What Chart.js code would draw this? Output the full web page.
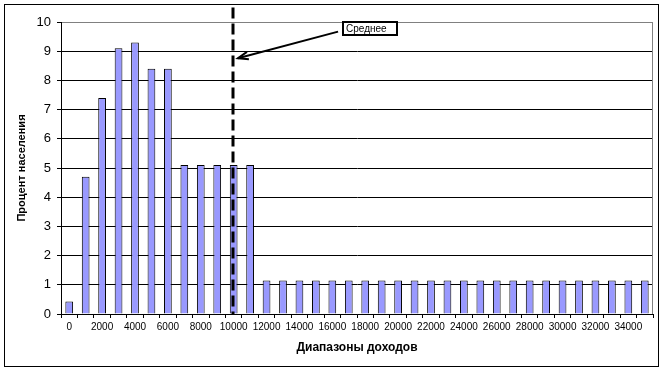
<!DOCTYPE html>
<html>
<head>
<meta charset="utf-8">
<script src="https://cdn.jsdelivr.net/npm/chart.js@4.4.0/dist/chart.umd.min.js"></script>
<style>
  html, body { margin: 0; padding: 0; background: #fff; }
</style>
</head>
<body>
<canvas id="chart" width="664" height="370"></canvas>
<script>
// income ranges (categories)
const incomeLabels = ['0', '1000', '2000', '3000', '4000', '5000', '6000', '7000', '8000', '9000',
    '10000', '11000', '12000', '13000', '14000', '15000', '16000', '17000', '18000', '19000',
    '20000', '21000', '22000', '23000', '24000', '25000', '26000', '27000', '28000', '29000',
    '30000', '31000', '32000', '33000', '34000', '35000'];

// percent of population in each range
const populationPct = [0.43, 4.7, 7.4, 9.1, 9.3, 8.4, 8.4, 5.1, 5.1, 5.1,
    5.1, 5.1, 1.15, 1.15, 1.15, 1.15, 1.15, 1.15, 1.15, 1.15,
    1.15, 1.15, 1.15, 1.15, 1.15, 1.15, 1.15, 1.15, 1.15, 1.15,
    1.15, 1.15, 1.15, 1.15, 1.15, 1.15];

const yMin = 0;
const yMax = 10;
const yStep = 1;

// mean income marker
const meanLabel = '10000';
const meanText = 'Среднее';

const FONT = 'Arial, "Liberation Sans", sans-serif';

const decor = {
    id: 'decor',
    beforeDraw(chart) {
        const c = chart.ctx;
        c.save();
        c.fillStyle = '#fff';
        c.fillRect(0, 0, chart.width, chart.height);
        c.restore();
    },
    afterDatasetsDraw(chart) {
        // dashed line for the mean
        const xs = chart.scales.x, ys = chart.scales.y;
        const c = chart.ctx;
        const x = Math.round(xs.getPixelForValue(incomeLabels.indexOf(meanLabel))) - 1;
        c.save();
        c.strokeStyle = '#000';
        c.lineWidth = 3;
        c.setLineDash([11, 5]);
        c.beginPath();
        c.moveTo(x, ys.getPixelForValue(10.5));
        c.lineTo(x, ys.getPixelForValue(0));
        c.stroke();
        c.restore();
    },
    afterDraw(chart) {
        const c = chart.ctx;
        const a = chart.chartArea;
        const xs = chart.scales.x, ys = chart.scales.y;
        c.save();
        // plot area right border
        c.strokeStyle = '#808080';
        c.lineWidth = 1;
        c.beginPath();
        c.moveTo(a.right - 0.5, a.top);
        c.lineTo(a.right - 0.5, a.bottom);
        c.stroke();

        // outer frame
        c.strokeStyle = '#000';
        c.strokeRect(4.5, 4.5, 654, 362);

        // arrow to the mean line
        const tipX = xs.getPixelForValue(10.26), tipY = ys.getPixelForValue(8.76);
        const tailX = xs.getPixelForValue(16.35), tailY = ys.getPixelForValue(9.67);
        c.lineWidth = 2;
        c.beginPath();
        c.moveTo(tailX, tailY);
        c.lineTo(tipX, tipY);
        c.stroke();
        const ang = Math.atan2(tailY - tipY, tailX - tipX);
        const len = 11;
        c.beginPath();
        c.moveTo(tipX + len * Math.cos(ang - 0.35), tipY + len * Math.sin(ang - 0.35));
        c.lineTo(tipX, tipY);
        c.lineTo(tipX + len * Math.cos(ang + 0.35), tipY + len * Math.sin(ang + 0.35));
        c.stroke();

        // label box
        const bx = Math.round(xs.getPixelForValue(16.66)), by = Math.round(ys.getPixelForValue(10));
        c.fillStyle = '#fff';
        c.fillRect(bx, by, 54, 13);
        c.lineWidth = 2;
        c.strokeRect(bx, by, 54, 13);
        c.fillStyle = '#000';
        c.font = '10px ' + FONT;
        c.textBaseline = 'middle';
        c.textAlign = 'left';
        c.fillText(meanText, bx + 3, by + 7);
        c.restore();
    }
};

new Chart(document.getElementById('chart'), {
    type: 'bar',
    data: {
        labels: incomeLabels,
        datasets: [{
            data: populationPct,
            backgroundColor: '#9999ff',
            borderColor: '#000',
            borderWidth: 1,
            categoryPercentage: 1,
            barPercentage: 0.47
        }]
    },
    options: {
        responsive: false,
        devicePixelRatio: 1,
        animation: false,
        layout: { padding: { top: 22, right: 11, bottom: 0, left: 0 } },
        plugins: {
            legend: { display: false },
            tooltip: { enabled: false }
        },
        scales: {
            x: {
                offset: true,
                afterFit: s => { s.height = 56; },
                grid: {
                    offset: true,
                    drawOnChartArea: false,
                    color: '#000',
                    tickLength: 4
                },
                border: { color: '#000' },
                ticks: {
                    autoSkip: false,
                    maxRotation: 0,
                    padding: 3,
                    color: '#000',
                    font: { family: FONT, size: 10 },
                    callback: function (v, i) { return i % 2 === 0 ? this.getLabelForValue(v) : ''; }
                },
                title: {
                    display: true,
                    text: 'Диапазоны доходов',
                    color: '#000',
                    font: { family: FONT, size: 12, weight: 'bold' },
                    padding: { top: 0, bottom: 15 }
                }
            },
            y: {
                min: yMin,
                max: yMax,
                afterFit: s => { s.width = 61; },
                grid: {
                    color: ctx => (ctx.tick && ctx.tick.value === yMax ? '#808080' : '#000'),
                    tickColor: '#000',
                    tickLength: 4
                },
                border: { color: '#000' },
                ticks: {
                    stepSize: yStep,
                    padding: 6,
                    color: '#000',
                    font: { family: FONT, size: 13 }
                },
                title: {
                    display: true,
                    text: 'Процент населения',
                    color: '#000',
                    font: { family: FONT, size: 11, weight: 'bold' },
                    padding: { top: 15, bottom: 0 }
                }
            }
        }
    },
    plugins: [decor]
});
</script>
</body>
</html>
